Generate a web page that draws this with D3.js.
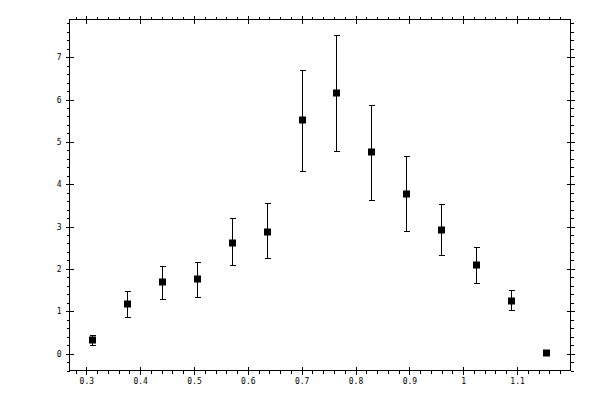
<!DOCTYPE html>
<html>
<head>
<meta charset="utf-8">
<script src="https://cdn.jsdelivr.net/npm/d3@7"></script>
<style>
  body { margin: 0; background: #fff; }
  svg text { font-family: "DejaVu Sans Mono", monospace; font-size: 8px; fill: #000; }
</style>
</head>
<body>
<svg id="chart" width="600" height="400"></svg>
<script>
var xVals  = [0.311, 0.376, 0.441, 0.506, 0.571, 0.636, 0.701, 0.764, 0.829, 0.894, 0.959, 1.024, 1.089, 1.154];
var yVals  = [0.31, 1.16, 1.68, 1.75, 2.62, 2.88, 5.52, 6.15, 4.75, 3.77, 2.91, 2.08, 1.25, 0.02];
var yHigh  = [0.43, 1.47, 2.06, 2.15, 3.19, 3.55, 6.69, 7.52, 5.86, 4.66, 3.52, 2.51, 1.49, 0.02];
var yLow   = [0.20, 0.85, 1.28, 1.32, 2.08, 2.25, 4.30, 4.78, 3.62, 2.89, 2.32, 1.65, 1.02, 0.02];

// tick labels
var xTicks = [0.3, 0.4, 0.5, 0.6, 0.7, 0.8, 0.9, 1.0, 1.1];
var yTicks = [0, 1, 2, 3, 4, 5, 6, 7];

var svg = d3.select('#chart');

// plot frame
var frameL = 69.5, frameR = 570.5, frameT = 19.5, frameB = 370.5;

var x = d3.scaleLinear().domain([0.2688, 1.1993]).range([frameL, frameR]);
var y = d3.scaleLinear().domain([-0.40, 7.89]).range([frameB, frameT]);

// minor ticks, every 0.02 on x and 0.2 on y
var xMinor = d3.range(0.28, 1.19, 0.02).filter(function(v) {
    return Math.abs(v*10 - Math.round(v*10)) > 1e-6;
});
var yMinor = d3.range(-0.4, 7.81, 0.2).filter(function(v) {
    return Math.abs(v - Math.round(v)) > 1e-6;
});

function fmt(v) { return d3.format('')(+v.toFixed(2)); }

// draws minor (outward) and major (crossing) ticks for one side
function side(axisFn, scale, major, minor, pos, labels, sign, vertical)
{
    var g = svg.append('g').attr('transform', vertical ? 'translate('+pos+',0)' : 'translate(0,'+pos+')');
    g.append('g').call(axisFn(scale).tickValues(minor).tickSize(3).tickFormat(''));
    var m = g.append('g').call(axisFn(scale).tickValues(major).tickSize(4).tickPadding(4)
                .tickFormat(labels ? fmt : ''));
    // major ticks cross the frame line
    m.selectAll('.tick line').attr(vertical ? 'x1' : 'y1', -4*sign);
    g.selectAll('.domain').remove();
    g.selectAll('line').attr('stroke', '#000').attr('shape-rendering', 'crispEdges');
    g.selectAll('text').attr('font-family', null).attr('font-size', null);
}

side(d3.axisBottom, x, xTicks, xMinor, frameB, true, 1, false);
side(d3.axisTop, x, xTicks, xMinor, frameT, false, -1, false);
side(d3.axisLeft, y, yTicks, yMinor, frameL, true, -1, true);
side(d3.axisRight, y, yTicks, yMinor, frameR, false, 1, true);

// frame
svg.append('rect')
    .attr('x', frameL).attr('y', frameT)
    .attr('width', frameR-frameL).attr('height', frameB-frameT)
    .attr('fill', 'none').attr('stroke', '#000')
    .attr('shape-rendering', 'crispEdges');

var pts = xVals.map(function(v, i) {
    return {x: v, y: yVals[i], hi: yHigh[i], lo: yLow[i]};
});

var eb = svg.append('g').attr('stroke', '#000').attr('shape-rendering', 'crispEdges');
pts.forEach(function(p)
{
    if (p.hi - p.lo < 0.05) return;
    var cx = Math.round(x(p.x)) + 0.5;
    eb.append('line').attr('x1', cx).attr('x2', cx).attr('y1', y(p.hi)).attr('y2', y(p.lo));
    eb.append('line').attr('x1', cx-3).attr('x2', cx+3).attr('y1', y(p.hi)).attr('y2', y(p.hi));
    eb.append('line').attr('x1', cx-3).attr('x2', cx+3).attr('y1', y(p.lo)).attr('y2', y(p.lo));
});

svg.append('g').selectAll('rect.pt')
    .data(pts)
    .enter().append('rect')
    .attr('class', 'pt')
    .attr('x', function(d) { return Math.round(x(d.x)) - 3; })
    .attr('y', function(d) { return Math.round(y(d.y)) - 3.5; })
    .attr('width', 7)
    .attr('height', 7)
    .attr('fill', '#000');
</script>
</body>
</html>
